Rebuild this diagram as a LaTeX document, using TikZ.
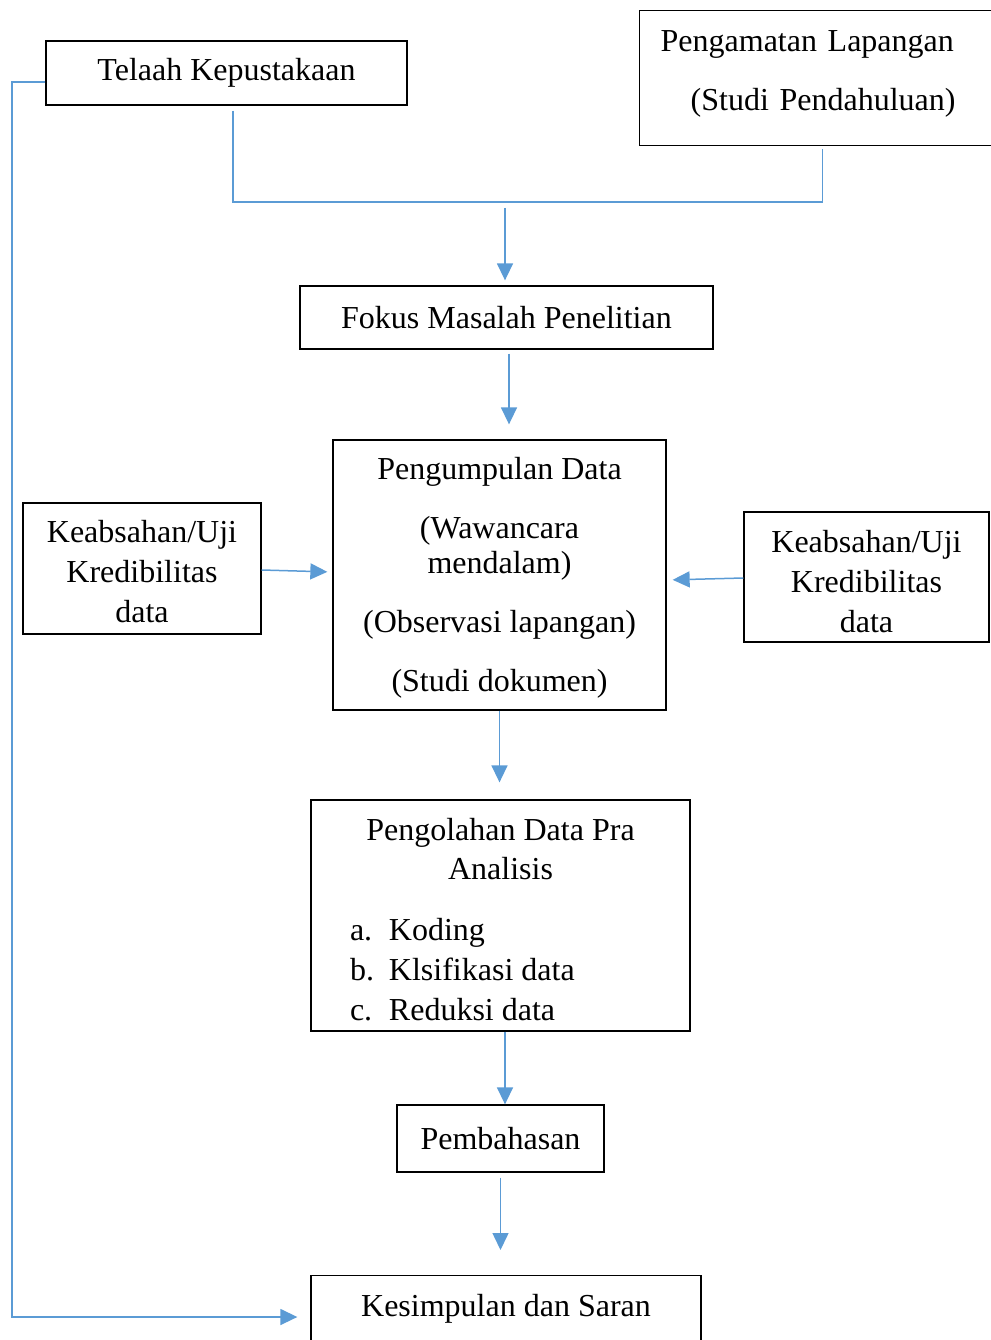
\documentclass[tikz,border=0pt]{standalone}
\usepackage{fontspec}
\setmainfont{Liberation Serif}
\usetikzlibrary{arrows.meta}
\definecolor{biru}{RGB}{91,155,213}
\tikzstyle{kotak} = [draw=black, line width=1.3pt, rectangle, inner sep=0pt, align=center, font=\fontsize{32}{38}\selectfont]
\tikzstyle{garis} = [draw=biru, line width=1.5pt]
\tikzstyle{panah} = [draw=biru, line width=1.5pt, -{Triangle[length=17pt,width=16pt]}]
\newcommand{\butir}[2]{\makebox[301pt][l]{\makebox[39pt][l]{#1}#2}}
\newcommand{\atas}[1]{\rule{0pt}{#1}}

\begin{document}
\begin{tikzpicture}[x=1pt,y=-1pt]
\useasboundingbox (0,0) rectangle (990,1340);
\node[kotak, minimum width=361pt, minimum height=64pt] (telaah) at (226.5,73) {Telaah Kepustakaan};
\node[kotak, anchor=north west, minimum width=366pt, minimum height=135pt, text width=324pt, align=left] (amat) at (639,10) {Pengamatan Lapangan\\[21pt]\hspace*{30pt}(Studi Pendahuluan)\rule[-15pt]{0pt}{15pt}};
\node[kotak, minimum width=413pt, minimum height=63pt] (fokus) at (506.5,317.5) {Fokus Masalah Penelitian};
\node[kotak, minimum width=333pt, minimum height=270pt] (kumpul) at (499.5,575) {\atas{28pt}Pengumpulan Data\\[21pt](Wawancara\\[-3pt]mendalam)\\[21pt](Observasi lapangan)\\[21pt](Studi dokumen)};
\node[kotak, minimum width=238pt, minimum height=131pt] (kiri) at (142,568.5) {\atas{28pt}Keabsahan/Uji\\[2pt]Kredibilitas\\[2pt]data};
\node[kotak, minimum width=245pt, minimum height=130pt] (kanan) at (866.5,577) {\atas{32pt}Keabsahan/Uji\\[2pt]Kredibilitas\\[2pt]data};
\node[kotak, minimum width=379pt, minimum height=231pt] (olah) at (500.5,915.5) {\atas{30pt}Pengolahan Data Pra\\[1pt]Analisis\\[23pt]\butir{a.}{Koding}\\[2pt]\butir{b.}{Klsifikasi data}\\[2pt]\butir{c.}{Reduksi data}};
\node[kotak, minimum width=207pt, minimum height=67pt] (bahas) at (500.5,1138.5) {Pembahasan};
\node[kotak, anchor=north, minimum width=390pt, inner ysep=19pt, text height=22pt, text depth=60pt] (simpul) at (506,1275) {Kesimpulan dan Saran};

% penghubung
\coordinate (gabung) at (505,202);
\coordinate (belok) at (12,1317);
\draw[garis] ([xshift=6.5pt,yshift=-5pt]telaah.south) |- (gabung) -| ([yshift=-3pt]amat.south);
\draw[panah, shorten >=5pt] ([yshift=-6pt]gabung) -- (gabung |- fokus.north);
\draw[panah, shorten >=15pt] ([xshift=2.5pt,yshift=-4pt]fokus.south) -- ([xshift=2.5pt]fokus.south |- kumpul.north);
\draw[panah, shorten >=5pt] ([yshift=-1.5pt]kiri.east) -- ([yshift=3pt]kumpul.west);
\draw[panah, shorten >=6pt] ([yshift=-1pt]kanan.west) -- ([yshift=-5pt]kumpul.east);
\draw[panah, shorten >=17pt] (kumpul.south) -- (kumpul.south |- olah.north);
\draw[panah] ([xshift=4.5pt]olah.south) -- ([xshift=4.5pt]olah.south |- bahas.north);
\draw[panah, shorten >=25pt] ([yshift=-5pt]bahas.south) -- (bahas.south |- simpul.north);
\draw[panah, shorten >=13pt] ([yshift=-9pt]telaah.west) -| (belok) -- (belok -| simpul.west);
\end{tikzpicture}
\end{document}
